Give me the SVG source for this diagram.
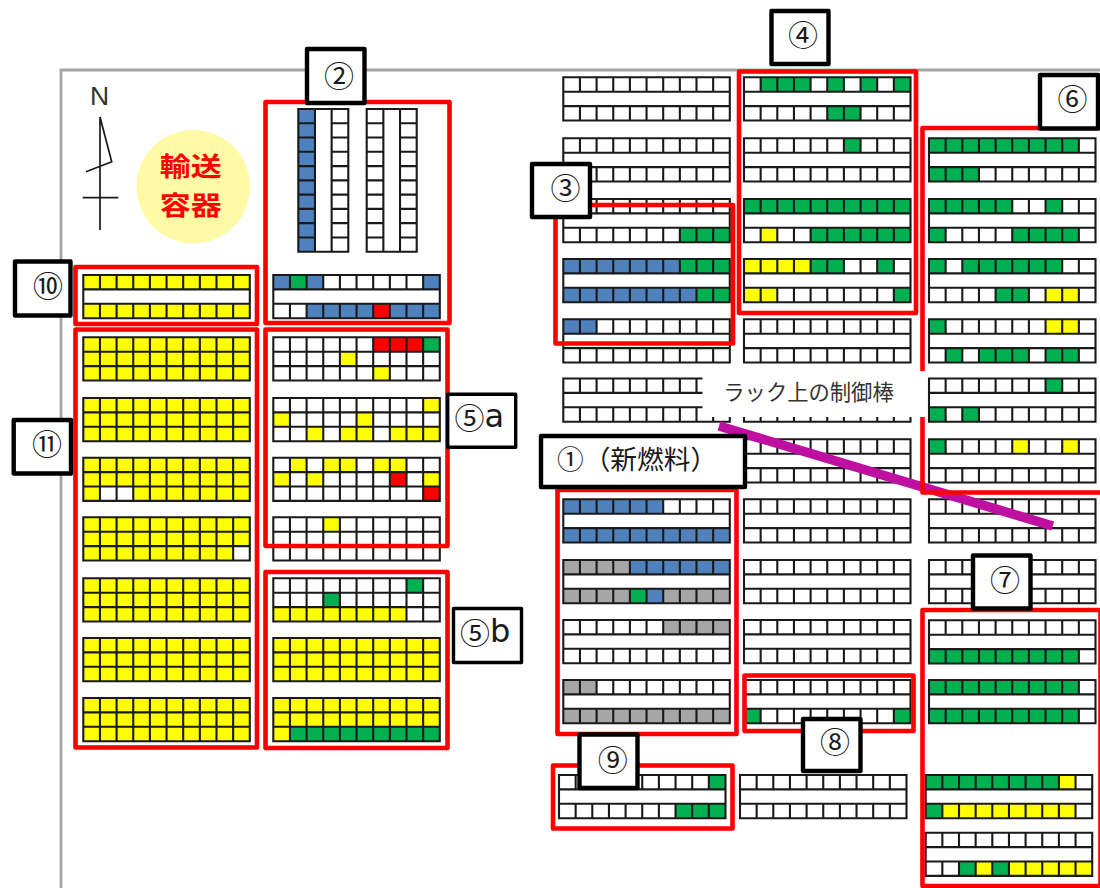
<svg xmlns="http://www.w3.org/2000/svg" width="1100" height="888" viewBox="0 0 1100 888">
<style>
.b{fill:#4f81bd}.g{fill:#00b050}.y{fill:#ffff00}.r{fill:#ff0000}.a{fill:#a6a6a6}.w{fill:#ffffff}
.f{fill:none;stroke:#1a1a1a;stroke-width:2.1}
.rb{fill:none;stroke:#ff0000;stroke-width:4.6;stroke-linejoin:round}
.lb{fill:#ffffff;stroke:#000000;stroke-width:4.4;stroke-linejoin:round}
.t{font-family:"Noto Sans CJK JP","DejaVu Sans",sans-serif;fill:#1a1a1a;font-size:30px;text-anchor:middle;dominant-baseline:central}
</style>
<defs>
<rect id="bg" class="w" width="166.5" height="43.2"/>
<path id="fg" class="f" d="M0 0H166.5V43.2H0ZM0 14.4H166.5M0 28.8H166.5M16.65 0V43.2M33.3 0V43.2M49.95 0V43.2M66.6 0V43.2M83.25 0V43.2M99.9 0V43.2M116.55 0V43.2M133.2 0V43.2M149.85 0V43.2"/>
<path id="fb" class="f" d="M0 0H166.5V43.2H0ZM0 14.4H166.5M0 28.8H166.5M16.65 0V14.4M33.3 0V14.4M49.95 0V14.4M66.6 0V14.4M83.25 0V14.4M99.9 0V14.4M116.55 0V14.4M133.2 0V14.4M149.85 0V14.4M16.65 28.8V43.2M33.3 28.8V43.2M49.95 28.8V43.2M66.6 28.8V43.2M83.25 28.8V43.2M99.9 28.8V43.2M116.55 28.8V43.2M133.2 28.8V43.2M149.85 28.8V43.2"/>
<path id="fv" class="f" d="M0 0H50V142.7H0ZM16.67 0V142.7M33.33 0V142.7M0 14.27H16.67M33.33 14.27H50M0 28.54H16.67M33.33 28.54H50M0 42.81H16.67M33.33 42.81H50M0 57.08H16.67M33.33 57.08H50M0 71.35H16.67M33.33 71.35H50M0 85.62H16.67M33.33 85.62H50M0 99.89H16.67M33.33 99.89H50M0 114.16H16.67M33.33 114.16H50M0 128.43H16.67M33.33 128.43H50"/>
</defs>
<rect width="1100" height="888" fill="#ffffff"/>
<path id="frame" d="M61 888V70H1100" fill="none" stroke="#a6a6a6" stroke-width="2.8"/>
<g id="compass">
<text x="99.5" y="105" font-family="Liberation Sans,sans-serif" font-size="26.5" text-anchor="middle" fill="#333333">N</text>
<path d="M100 117V230M82.7 197.7H118.3M100 117L111.7 161.7L86 171.7" fill="none" stroke="#1a1a1a" stroke-width="1.7"/>
</g>
<g id="cask">
<circle cx="193.3" cy="186.7" r="56.7" fill="#fffaa5"/>
<text x="159.7" y="164.6" textLength="62" lengthAdjust="spacingAndGlyphs" font-family="Noto Sans CJK JP,sans-serif" font-size="26" font-weight="700" fill="#ff0000" dominant-baseline="central">輸送</text>
<text x="159.7" y="203.4" textLength="62" lengthAdjust="spacingAndGlyphs" font-family="Noto Sans CJK JP,sans-serif" font-size="26" font-weight="700" fill="#ff0000" dominant-baseline="central">容器</text>
</g>

<g id="col-1">
<g id="r1-1" transform="translate(83.3,275)"><use href="#bg"/><rect class="y" width="166.5" height="14.4"/><rect class="y" y="28.8" width="166.5" height="14.4"/><use href="#fb"/></g>
<g id="r1-2" transform="translate(83.3,337.3)"><rect class="y" width="166.5" height="43.2"/><use href="#fg"/></g>
<g id="r1-3" transform="translate(83.3,398)"><rect class="y" width="166.5" height="43.2"/><use href="#fg"/></g>
<g id="r1-4" transform="translate(83.3,457.7)"><rect class="y" width="166.5" height="43.2"/><rect class="w" x="16.65" y="28.8" width="33.3" height="14.4"/><use href="#fg"/></g>
<g id="r1-5" transform="translate(83.3,517.3)"><rect class="y" width="166.5" height="43.2"/><rect class="w" x="149.85" y="28.8" width="16.65" height="14.4"/><use href="#fg"/></g>
<g id="r1-6" transform="translate(83.3,578.3)"><rect class="y" width="166.5" height="43.2"/><use href="#fg"/></g>
<g id="r1-7" transform="translate(83.3,638)"><rect class="y" width="166.5" height="43.2"/><use href="#fg"/></g>
<g id="r1-8" transform="translate(83.3,698)"><rect class="y" width="166.5" height="43.2"/><use href="#fg"/></g>
</g>

<g id="col-2">
<g id="rv-1" transform="translate(298.3,109)"><rect class="w" width="50" height="142.7"/><rect class="b" width="16.67" height="142.7"/><use href="#fv"/></g>
<g id="rv-2" transform="translate(366.7,109)"><rect class="w" width="50" height="142.7"/><use href="#fv"/></g>
<g id="r2-1" transform="translate(273.3,275)"><use href="#bg"/><rect class="b" width="16.65" height="14.4"/><rect class="g" x="16.65" width="16.65" height="14.4"/><rect class="b" x="33.3" width="16.65" height="14.4"/><rect class="b" x="149.85" width="16.65" height="14.4"/><rect class="b" x="33.3" y="28.8" width="133.2" height="14.4"/><rect class="r" x="99.9" y="28.8" width="16.65" height="14.4"/><use href="#fb"/></g>
<g id="r2-2" transform="translate(273.3,337.3)"><use href="#bg"/><rect class="r" x="99.9" width="49.95" height="14.4"/><rect class="g" x="149.85" width="16.65" height="14.4"/><rect class="y" x="66.6" y="14.4" width="16.65" height="14.4"/><rect class="y" x="99.9" y="28.8" width="16.65" height="14.4"/><use href="#fg"/></g>
<g id="r2-3" transform="translate(273.3,398)"><use href="#bg"/><rect class="y" x="149.85" width="16.65" height="14.4"/><rect class="y" y="14.4" width="16.65" height="14.4"/><rect class="y" x="83.25" y="14.4" width="16.65" height="14.4"/><rect class="y" x="33.3" y="28.8" width="16.65" height="14.4"/><rect class="y" x="66.6" y="28.8" width="33.3" height="14.4"/><rect class="y" x="116.55" y="28.8" width="49.95" height="14.4"/><use href="#fg"/></g>
<g id="r2-4" transform="translate(273.3,457.7)"><use href="#bg"/><rect class="y" x="16.65" width="16.65" height="14.4"/><rect class="y" x="49.95" width="33.3" height="14.4"/><rect class="y" x="99.9" width="33.3" height="14.4"/><rect class="y" y="14.4" width="16.65" height="14.4"/><rect class="y" x="33.3" y="14.4" width="16.65" height="14.4"/><rect class="r" x="116.55" y="14.4" width="16.65" height="14.4"/><rect class="y" x="149.85" y="14.4" width="16.65" height="14.4"/><rect class="r" x="149.85" y="28.8" width="16.65" height="14.4"/><use href="#fg"/></g>
<g id="r2-5" transform="translate(273.3,517.3)"><use href="#bg"/><rect class="y" x="49.95" width="16.65" height="14.4"/><use href="#fg"/></g>
<g id="r2-6" transform="translate(273.3,578.3)"><use href="#bg"/><rect class="g" x="133.2" width="16.65" height="14.4"/><rect class="g" x="49.95" y="14.4" width="16.65" height="14.4"/><rect class="y" y="28.8" width="133.2" height="14.4"/><use href="#fg"/></g>
<g id="r2-7" transform="translate(273.3,638)"><rect class="y" width="166.5" height="43.2"/><use href="#fg"/></g>
<g id="r2-8" transform="translate(273.3,698)"><rect class="y" width="166.5" height="43.2"/><rect class="g" x="16.65" y="28.8" width="149.85" height="14.4"/><use href="#fg"/></g>
</g>

<g id="col-3">
<g id="r3-1" transform="translate(563.3,77.3)"><use href="#bg"/><use href="#fb"/></g>
<g id="r3-2" transform="translate(563.3,138.3)"><use href="#bg"/><use href="#fb"/></g>
<g id="r3-3" transform="translate(563.3,199)"><use href="#bg"/><rect class="g" x="116.55" y="28.8" width="49.95" height="14.4"/><use href="#fb"/></g>
<g id="r3-4" transform="translate(563.3,259)"><use href="#bg"/><rect class="b" width="116.55" height="14.4"/><rect class="g" x="116.55" width="49.95" height="14.4"/><rect class="b" y="28.8" width="133.2" height="14.4"/><rect class="g" x="133.2" y="28.8" width="33.3" height="14.4"/><use href="#fb"/></g>
<g id="r3-5" transform="translate(563.3,319.3)"><use href="#bg"/><rect class="b" width="33.3" height="14.4"/><use href="#fb"/></g>
<g id="r3-6" transform="translate(563.3,378.5)"><use href="#bg"/><use href="#fb"/></g>
<g id="r3-7" transform="translate(563.3,499.3)"><use href="#bg"/><rect class="b" width="99.9" height="14.4"/><rect class="b" y="28.8" width="166.5" height="14.4"/><use href="#fb"/></g>
<g id="r3-8" transform="translate(563.3,560)"><use href="#bg"/><rect class="a" width="66.6" height="14.4"/><rect class="b" x="66.6" width="99.9" height="14.4"/><rect class="a" y="28.8" width="166.5" height="14.4"/><rect class="g" x="66.6" y="28.8" width="16.65" height="14.4"/><rect class="b" x="83.25" y="28.8" width="16.65" height="14.4"/><use href="#fb"/></g>
<g id="r3-9" transform="translate(563.3,620)"><use href="#bg"/><rect class="a" x="99.9" width="66.6" height="14.4"/><use href="#fb"/></g>
<g id="r3-10" transform="translate(563.3,680)"><use href="#bg"/><rect class="a" width="33.3" height="14.4"/><rect class="a" y="28.8" width="166.5" height="14.4"/><use href="#fb"/></g>
<g id="r3-11" transform="translate(559,775)"><use href="#bg"/><rect class="g" x="149.85" width="16.65" height="14.4"/><rect class="g" x="116.55" y="28.8" width="49.95" height="14.4"/><use href="#fb"/></g>
</g>

<g id="col-4">
<g id="r4-1" transform="translate(744,77.3)"><use href="#bg"/><rect class="g" x="16.65" width="49.95" height="14.4"/><rect class="g" x="83.25" width="16.65" height="14.4"/><rect class="g" x="116.55" width="16.65" height="14.4"/><rect class="g" x="149.85" width="16.65" height="14.4"/><rect class="g" x="83.25" y="28.8" width="33.3" height="14.4"/><use href="#fb"/></g>
<g id="r4-2" transform="translate(744,138.3)"><use href="#bg"/><rect class="g" x="99.9" width="16.65" height="14.4"/><use href="#fb"/></g>
<g id="r4-3" transform="translate(744,199)"><use href="#bg"/><rect class="g" width="166.5" height="14.4"/><rect class="y" x="16.65" y="28.8" width="16.65" height="14.4"/><rect class="g" x="66.6" y="28.8" width="99.9" height="14.4"/><use href="#fb"/></g>
<g id="r4-4" transform="translate(744,259)"><use href="#bg"/><rect class="y" width="66.6" height="14.4"/><rect class="g" x="66.6" width="33.3" height="14.4"/><rect class="g" x="133.2" width="16.65" height="14.4"/><rect class="y" y="28.8" width="33.3" height="14.4"/><rect class="g" x="149.85" y="28.8" width="16.65" height="14.4"/><use href="#fb"/></g>
<g id="r4-5" transform="translate(744,319.3)"><use href="#bg"/><use href="#fb"/></g>
<g id="r4-6" transform="translate(744,378.5)"><use href="#bg"/><use href="#fb"/></g>
<g id="r4-7" transform="translate(744,439.3)"><use href="#bg"/><use href="#fb"/></g>
<g id="r4-8" transform="translate(744,499.3)"><use href="#bg"/><use href="#fb"/></g>
<g id="r4-9" transform="translate(744,560)"><use href="#bg"/><use href="#fb"/></g>
<g id="r4-10" transform="translate(744,620)"><use href="#bg"/><use href="#fb"/></g>
<g id="r4-11" transform="translate(744,680)"><use href="#bg"/><rect class="g" y="28.8" width="16.65" height="14.4"/><rect class="g" x="149.85" y="28.8" width="16.65" height="14.4"/><use href="#fb"/></g>
<g id="r4-12" transform="translate(740,775)"><use href="#bg"/><use href="#fb"/></g>
</g>

<g id="col-5">
<g id="r5-1" transform="translate(929,138.3)"><use href="#bg"/><rect class="g" width="149.85" height="14.4"/><rect class="g" y="28.8" width="49.95" height="14.4"/><use href="#fb"/></g>
<g id="r5-2" transform="translate(929,199)"><use href="#bg"/><rect class="g" width="83.25" height="14.4"/><rect class="g" x="116.55" width="16.65" height="14.4"/><rect class="g" y="28.8" width="16.65" height="14.4"/><rect class="g" x="83.25" y="28.8" width="66.6" height="14.4"/><use href="#fb"/></g>
<g id="r5-3" transform="translate(929,259)"><use href="#bg"/><rect class="g" width="16.65" height="14.4"/><rect class="g" x="33.3" width="99.9" height="14.4"/><rect class="g" x="66.6" y="28.8" width="33.3" height="14.4"/><rect class="y" x="116.55" y="28.8" width="33.3" height="14.4"/><use href="#fb"/></g>
<g id="r5-4" transform="translate(929,319.3)"><use href="#bg"/><rect class="g" width="16.65" height="14.4"/><rect class="y" x="116.55" width="33.3" height="14.4"/><rect class="g" x="16.65" y="28.8" width="16.65" height="14.4"/><rect class="g" x="49.95" y="28.8" width="49.95" height="14.4"/><rect class="g" x="116.55" y="28.8" width="33.3" height="14.4"/><use href="#fb"/></g>
<g id="r5-5" transform="translate(929,378.5)"><use href="#bg"/><rect class="g" x="116.55" width="16.65" height="14.4"/><rect class="g" y="28.8" width="16.65" height="14.4"/><rect class="g" x="33.3" y="28.8" width="16.65" height="14.4"/><use href="#fb"/></g>
<g id="r5-6" transform="translate(929,439.3)"><use href="#bg"/><rect class="g" width="16.65" height="14.4"/><rect class="y" x="83.25" width="16.65" height="14.4"/><rect class="y" x="133.2" width="16.65" height="14.4"/><use href="#fb"/></g>
<g id="r5-7" transform="translate(929,499.3)"><use href="#bg"/><use href="#fb"/></g>
<g id="r5-8" transform="translate(929,560)"><use href="#bg"/><use href="#fb"/></g>
<g id="r5-9" transform="translate(929,620.3)"><use href="#bg"/><rect class="g" y="28.8" width="149.85" height="14.4"/><use href="#fb"/></g>
<g id="r5-10" transform="translate(929,680)"><use href="#bg"/><rect class="g" width="149.85" height="14.4"/><rect class="g" y="28.8" width="149.85" height="14.4"/><use href="#fb"/></g>
<g id="r5-11" transform="translate(925.7,775)"><use href="#bg"/><rect class="g" width="133.2" height="14.4"/><rect class="y" x="133.2" width="16.65" height="14.4"/><rect class="g" y="28.8" width="16.65" height="14.4"/><rect class="y" x="16.65" y="28.8" width="133.2" height="14.4"/><use href="#fb"/></g>
<g id="r5-12" transform="translate(925.7,832.7)"><use href="#bg"/><rect class="g" x="33.3" y="28.8" width="16.65" height="14.4"/><rect class="y" x="49.95" y="28.8" width="16.65" height="14.4"/><rect class="g" x="66.6" y="28.8" width="16.65" height="14.4"/><rect class="y" x="83.25" y="28.8" width="83.25" height="14.4"/><use href="#fb"/></g>
</g>

<line id="rod-line" x1="719" y1="426" x2="1052.7" y2="526" stroke="#be0fa0" stroke-width="9.5"/>

<g id="zones">
<rect id="z2" class="rb" x="265.5" y="102" width="184" height="221"/>
<rect id="z10" class="rb" x="75.5" y="267" width="181.5" height="57"/>
<rect id="z11" class="rb" x="75.5" y="329.5" width="181.5" height="418"/>
<rect id="z5a" class="rb" x="265.5" y="329.5" width="182" height="216.5"/>
<rect id="z5b" class="rb" x="265.5" y="572" width="182" height="176"/>
<rect id="z3" class="rb" x="555.5" y="205" width="177.5" height="138.5"/>
<rect id="z4" class="rb" x="739" y="71.5" width="177" height="241.5"/>
<path id="z6" class="rb" d="M1100 128H922.5V492.5H1100"/>
<rect id="z7" class="rb" x="922.5" y="610" width="178" height="276"/>
<rect id="z1" class="rb" x="557.5" y="490" width="179" height="244"/>
<rect id="z8" class="rb" x="744.5" y="675.5" width="169" height="55.5"/>
<rect id="z9" class="rb" x="553" y="765.5" width="179.5" height="63"/>
</g>

<g id="rod-label">
<rect x="702.5" y="371" width="222.5" height="46" fill="#ffffff"/>
<text x="808.5" y="390.3" font-family="Noto Sans CJK JP,sans-serif" font-size="21.3" fill="#333333" text-anchor="middle" dominant-baseline="central">ラック上の制御棒</text>
</g>

<g id="label-1"><rect class="lb" x="541" y="436" width="204" height="51"/><text class="t" x="557" y="457" style="font-size:26.7px;text-anchor:start">①（新燃料）</text></g>
<g id="label-2"><rect class="lb" x="307" y="49" width="57.5" height="54"/><text class="t" x="339" y="73.5">②</text></g>
<g id="label-3"><rect class="lb" x="532" y="164" width="58" height="53"/><text class="t" x="565.5" y="186">③</text></g>
<g id="label-4"><rect class="lb" x="771.5" y="11" width="57" height="53"/><text class="t" x="803" y="33">④</text></g>
<g id="label-5a"><rect class="lb" x="447.7" y="394.3" width="68" height="53" style="stroke-width:3.4"/><text class="t" x="454.5" y="415.5" style="text-anchor:start">⑤<tspan style="font-family:'DejaVu Sans',sans-serif;font-size:32px">a</tspan></text></g>
<g id="label-5b"><rect class="lb" x="453.5" y="608.5" width="68" height="54" style="stroke-width:3.4"/><text class="t" x="460" y="631" style="text-anchor:start">⑤<tspan style="font-family:'DejaVu Sans',sans-serif;font-size:32px">b</tspan></text></g>
<g id="label-6"><rect class="lb" x="1040" y="75" width="58" height="53.5"/><text class="t" x="1072.5" y="96.5">⑥</text></g>
<g id="label-7"><rect class="lb" x="973" y="555.5" width="57.5" height="53"/><text class="t" x="1005" y="578">⑦</text></g>
<g id="label-8"><rect class="lb" x="803" y="719" width="57.5" height="52"/><text class="t" x="835" y="739.5">⑧</text></g>
<g id="label-9"><rect class="lb" x="579.5" y="734.5" width="58" height="53.5"/><text class="t" x="612.8" y="757.5">⑨</text></g>
<g id="label-10"><rect class="lb" x="15" y="261.5" width="55.5" height="54"/><text class="t" x="48" y="284">⑩</text></g>
<g id="label-11"><rect class="lb" x="13.7" y="420" width="57.3" height="53.5"/><text class="t" x="47" y="442">⑪</text></g>
</svg>
